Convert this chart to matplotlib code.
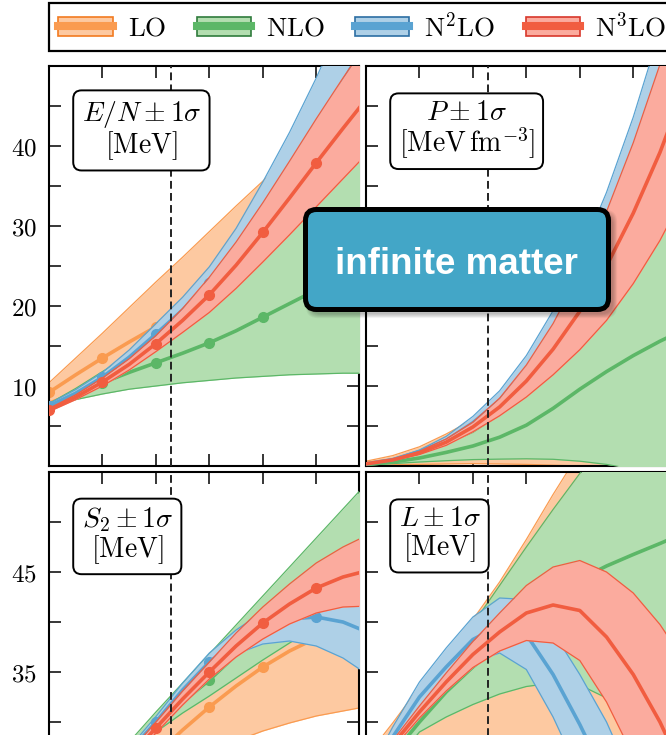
import matplotlib
matplotlib.use("Agg")
import matplotlib.pyplot as plt
from matplotlib.patches import Patch, FancyBboxPatch
from matplotlib.lines import Line2D
from matplotlib.legend_handler import HandlerTuple

plt.rcParams["mathtext.fontset"] = "cm"
plt.rcParams["font.family"] = "serif"

# densities n [fm^-3]
DENS = [0.05, 0.075, 0.10, 0.125, 0.15, 0.175, 0.20, 0.225, 0.25, 0.275, 0.30, 0.325, 0.35]
DOT_IDX = [0, 2, 4, 6, 8, 10]          # n = 0.05 ... 0.30 carry markers
N_SAT = 0.164

LABELS = [r"$\mathrm{LO}$", r"$\mathrm{NLO}$", r"$\mathrm{N}^2\mathrm{LO}$", r"$\mathrm{N}^3\mathrm{LO}$"]
LINE = ["#fa9b50", "#5cb767", "#5aa3d2", "#f15d40"]
FILL = ["#fdc9a1", "#b3deb0", "#aed0e7", "#fbab9e"]
EDGE = ["#f27a20", "#2f7b3c", "#2c6ea3", "#d8372b"]

# ---- E/N [MeV]
EN_LO = [9.2, 11.4, 13.5, 15.5, 17.4, 19.3, 21.2, 23.1, 25.0, 26.9, 28.8, 30.7, 32.6]
EN_LO_LOW = [8.0, 9.3, 10.4, 11.2, 11.8, 12.5, 13.1, 13.7, 14.4, 15.0, 15.6, 16.3, 17.0]
EN_LO_HIGH = [10.4, 13.5, 16.6, 19.8, 23.0, 26.1, 29.3, 32.5, 35.6, 38.8, 42.0, 45.1, 48.2]
EN_NLO = [7.5, 9.0, 10.4, 11.7, 12.9, 14.1, 15.4, 16.9, 18.6, 20.3, 22.0, 23.8, 25.6]
EN_NLO_LOW = [7.2, 8.3, 9.0, 9.6, 10.0, 10.4, 10.7, 11.0, 11.2, 11.4, 11.5, 11.6, 11.6]
EN_NLO_HIGH = [7.8, 9.7, 11.8, 13.8, 15.8, 17.8, 20.1, 22.8, 26.0, 29.2, 32.5, 36.0, 39.6]
EN_N2LO = [7.5, 9.1, 11.1, 13.6, 16.5, 19.5, 22.9, 27.0, 31.5, 36.5, 42.0, 48.0, 54.0]
EN_N2LO_LOW = [7.2, 8.65, 10.5, 12.7, 15.2, 17.9, 20.9, 24.3, 28.5, 33.3, 38.0, 43.0, 48.0]
EN_N2LO_HIGH = [7.8, 9.55, 11.7, 14.5, 17.8, 21.1, 24.9, 29.7, 35.5, 41.7, 48.5, 56.0, 64.0]
EN_N3LO = [7.0, 8.6, 10.5, 12.7, 15.3, 18.2, 21.4, 25.1, 29.2, 33.5, 37.9, 42.2, 46.4]
EN_N3LO_LOW = [6.8, 8.3, 10.0, 12.0, 14.3, 16.7, 19.2, 22.2, 25.5, 28.9, 32.4, 35.9, 39.4]
EN_N3LO_HIGH = [7.2, 8.9, 11.0, 13.4, 16.3, 19.7, 23.6, 28.0, 32.9, 38.1, 43.4, 48.5, 53.4]

# ---- P [MeV fm^-3]
P_LO = [0.17, 0.37, 0.65, 1.07, 1.5, 2.0, 2.55, 3.1, 3.75, 4.35, 4.9, 5.4, 5.95]
P_LO_LOW = [0.05, 0.08, 0.1, 0.13, 0.15, 0.13, 0.1, 0.05, 0.0, -0.1, -0.2, -0.35, -0.5]
P_LO_HIGH = [0.3, 0.65, 1.2, 2.0, 2.9, 3.9, 5.0, 6.2, 7.5, 8.8, 10.0, 11.2, 12.4]
P_NLO = [0.1, 0.25, 0.5, 0.85, 1.25, 1.8, 2.55, 3.6, 4.8, 5.9, 6.9, 7.8, 8.6]
P_NLO_LOW = [0.05, 0.15, 0.25, 0.33, 0.4, 0.43, 0.45, 0.42, 0.3, 0.1, -0.2, -0.6, -1.1]
P_NLO_HIGH = [0.15, 0.35, 0.75, 1.37, 2.1, 3.17, 4.65, 6.78, 9.3, 11.7, 14.0, 16.2, 18.3]
P_N2LO = [0.13, 0.4, 0.9, 1.6, 2.7, 4.1, 6.0, 8.4, 11.3, 14.7, 18.8, 23.5, 29.0]
P_N2LO_LOW = [0.11, 0.35, 0.8, 1.35, 2.3, 3.5, 5.1, 7.1, 9.5, 12.3, 15.8, 19.8, 24.5]
P_N2LO_HIGH = [0.15, 0.45, 1.0, 1.85, 3.1, 4.7, 6.9, 9.7, 13.1, 17.1, 21.8, 27.2, 33.5]
P_N3LO = [0.13, 0.38, 0.82, 1.49, 2.44, 3.69, 5.31, 7.3, 9.67, 12.5, 15.8, 19.6, 24.0]
P_N3LO_LOW = [0.11, 0.34, 0.72, 1.29, 2.14, 3.14, 4.31, 5.7, 7.27, 9.1, 11.4, 14.1, 17.3]
P_N3LO_HIGH = [0.15, 0.42, 0.92, 1.69, 2.74, 4.24, 6.31, 8.9, 12.07, 15.9, 20.2, 25.1, 30.7]

# ---- S2 [MeV]
S2_LO = [15.0, 17.5, 20.5, 23.5, 26.7, 29.2, 31.5, 33.6, 35.5, 37.1, 38.4, 39.3, 39.9]
S2_LO_LOW = [14.0, 16.2, 19.0, 21.5, 24.5, 25.9, 27.0, 28.1, 29.1, 29.9, 30.6, 31.1, 31.6]
S2_LO_HIGH = [16.0, 18.8, 22.0, 25.5, 28.9, 32.5, 36.0, 39.1, 41.9, 44.3, 46.2, 47.5, 48.2]
S2_NLO = [18.3, 20.9, 23.7, 27.3, 29.8, 32.0, 34.2, 36.7, 39.4, 41.7, 44.0, 46.1, 48.3]
S2_NLO_LOW = [17.0, 19.5, 22.4, 26.6, 29.0, 30.9, 32.6, 34.4, 36.2, 37.9, 39.5, 41.0, 42.4]
S2_NLO_HIGH = [19.5, 22.2, 25.0, 28.0, 31.0, 33.9, 36.8, 39.7, 42.6, 45.5, 48.4, 51.3, 54.2]
S2_N2LO = [17.5, 20.5, 23.8, 27.0, 30.0, 33.2, 36.0, 38.0, 39.4, 40.3, 40.5, 40.0, 38.9]
S2_N2LO_LOW = [17.4, 20.35, 23.55, 26.6, 29.45, 32.5, 35.1, 36.8, 37.8, 38.1, 37.6, 36.4, 34.6]
S2_N2LO_HIGH = [17.6, 20.65, 24.05, 27.4, 30.55, 33.9, 36.9, 39.2, 41.0, 42.5, 43.4, 43.6, 43.2]
S2_N3LO = [17.0, 20.0, 23.3, 26.5, 29.4, 32.3, 35.0, 37.6, 39.9, 41.8, 43.4, 44.5, 45.2]
S2_N3LO_LOW = [16.9, 19.8, 23.0, 26.05, 28.9, 31.7, 34.3, 36.5, 38.3, 39.8, 40.9, 41.5, 41.6]
S2_N3LO_HIGH = [17.1, 20.2, 23.6, 26.95, 30.0, 33.1, 36.0, 38.9, 41.5, 43.8, 45.9, 47.5, 48.8]

# ---- L [MeV]
L_LO = [28.0, 34.0, 40.0, 45.0, 50.0, 55.0, 60.0, 64.0, 68.0, 71.0, 74.0, 77.0, 80.0]
L_LO_LOW = [15.0, 17.5, 20.0, 22.0, 24.0, 25.5, 27.0, 27.5, 28.0, 27.5, 27.0, 26.0, 25.0]
L_LO_HIGH = [33.0, 39.8, 47.0, 54.0, 60.5, 68.0, 76.5, 85.5, 94.0, 102.0, 110.0, 118.0, 126.0]
L_NLO = [28.0, 33.5, 40.0, 46.0, 51.0, 55.5, 60.0, 64.5, 68.5, 71.2, 73.5, 75.7, 78.0]
L_NLO_LOW = [25.0, 31.5, 38.0, 41.0, 43.5, 45.6, 47.1, 47.8, 47.4, 44.8, 39.5, 32.5, 24.0]
L_NLO_HIGH = [30.0, 37.4, 44.8, 52.2, 59.6, 67.3, 75.0, 82.5, 89.7, 96.5, 103.0, 109.0, 115.0]
L_N2LO = [28.0, 37.0, 45.0, 51.0, 56.5, 59.3, 57.5, 49.5, 39.5, 28.5, 15.0, 2.0, -10.0]
L_N2LO_LOW = [27.0, 35.0, 42.0, 47.2, 52.0, 53.8, 50.5, 41.0, 29.5, 17.0, 2.0, -12.5, -26.0]
L_N2LO_HIGH = [29.0, 39.0, 48.0, 54.8, 61.0, 64.8, 64.5, 58.0, 49.5, 40.0, 28.0, 16.5, 6.0]
L_N3LO = [28.0, 35.5, 42.0, 48.0, 53.5, 58.0, 61.8, 63.4, 62.3, 57.0, 49.5, 40.0, 28.5]
L_N3LO_LOW = [27.5, 34.7, 40.8, 46.2, 50.9, 54.2, 56.3, 55.8, 52.3, 44.0, 33.2, 20.5, 5.5]
L_N3LO_HIGH = [28.5, 36.3, 43.2, 49.8, 56.1, 61.8, 67.3, 71.0, 72.3, 70.0, 65.8, 59.5, 51.5]

X_TICKS = [0.10, 0.15, 0.20, 0.25, 0.30]
EN_YTICKS = [5, 10, 15, 20, 25, 30, 35, 40, 45]
EN_YLABELS = ["", "$10$", "", "$20$", "", "$30$", "", "$40$", ""]
S2_YTICKS = [20, 25, 30, 35, 40, 45, 50]
S2_YLABELS = ["", "", "", "$35$", "", "$45$", ""]
P_YTICKS = [2.5, 5, 7.5, 10, 12.5, 15, 17.5, 20, 22.5]
L_YTICKS = [20, 30, 40, 50, 60, 70, 80]


def draw_panel(ax, series, dots):
    for k, (c, lo, hi) in enumerate(series):
        z = 2 + 2 * k
        ax.fill_between(DENS, lo, hi, color=FILL[k], lw=0, zorder=z)
        ax.plot(DENS, lo, color=LINE[k], lw=0.9, zorder=z + 0.1)
        ax.plot(DENS, hi, color=LINE[k], lw=0.9, zorder=z + 0.1)
        ax.plot(DENS, c, color=LINE[k], lw=2.6, zorder=z + 0.2,
                marker="o" if dots else None, ms=7, markevery=DOT_IDX)
    ax.axvline(N_SAT, color="#222", lw=1.4, ls=(0, (4, 2.2)), zorder=15)


def style(ax, ylim, yticks, ylabels, label):
    ax.set_xlim(0.05, 0.34)
    ax.set_ylim(*ylim)
    ax.set_xticks(X_TICKS)
    ax.set_yticks(yticks)
    if ylabels is None:
        ax.tick_params(labelleft=False)
    else:
        ax.set_yticklabels(ylabels)
    ax.tick_params(direction="in", length=8.5, width=1.1, top=True, right=True,
                   labelbottom=False, labelsize=18, pad=8.5)
    for s in ax.spines.values():
        s.set_linewidth(1.5)
    ax.text(0.105, 0.918, label, transform=ax.transAxes, ha="left", va="top",
            fontsize=20, multialignment="center", linespacing=0.98, zorder=20,
            bbox=dict(boxstyle="round,pad=0.3", fc="white", ec="black", lw=1.4))


fig = plt.figure(figsize=(6.66, 7.35), dpi=100)
W, H = 310 / 666, 400 / 735
ax_en = fig.add_axes([49 / 666, 1 - 466 / 735, W, H])
ax_p = fig.add_axes([366 / 666, 1 - 466 / 735, W, H])
ax_s2 = fig.add_axes([49 / 666, 1 - 872 / 735, W, H])
ax_l = fig.add_axes([366 / 666, 1 - 872 / 735, W, H])

draw_panel(ax_en, [(EN_LO, EN_LO_LOW, EN_LO_HIGH), (EN_NLO, EN_NLO_LOW, EN_NLO_HIGH),
                   (EN_N2LO, EN_N2LO_LOW, EN_N2LO_HIGH), (EN_N3LO, EN_N3LO_LOW, EN_N3LO_HIGH)], True)
draw_panel(ax_p, [(P_LO, P_LO_LOW, P_LO_HIGH), (P_NLO, P_NLO_LOW, P_NLO_HIGH),
                  (P_N2LO, P_N2LO_LOW, P_N2LO_HIGH), (P_N3LO, P_N3LO_LOW, P_N3LO_HIGH)], False)
draw_panel(ax_s2, [(S2_LO, S2_LO_LOW, S2_LO_HIGH), (S2_NLO, S2_NLO_LOW, S2_NLO_HIGH),
                   (S2_N2LO, S2_N2LO_LOW, S2_N2LO_HIGH), (S2_N3LO, S2_N3LO_LOW, S2_N3LO_HIGH)], True)
draw_panel(ax_l, [(L_LO, L_LO_LOW, L_LO_HIGH), (L_NLO, L_NLO_LOW, L_NLO_HIGH),
                  (L_N2LO, L_N2LO_LOW, L_N2LO_HIGH), (L_N3LO, L_N3LO_LOW, L_N3LO_HIGH)], False)

style(ax_en, (0, 50), EN_YTICKS, EN_YLABELS, "$E/N \\pm 1\\sigma$\n$[\\mathrm{MeV}]$")
style(ax_p, (0, 25), P_YTICKS, None, "$P \\pm 1\\sigma$\n$[\\mathrm{MeV\\,fm}^{-3}]$")
style(ax_s2, (15, 55), S2_YTICKS, S2_YLABELS, "$S_2 \\pm 1\\sigma$\n$[\\mathrm{MeV}]$")
style(ax_l, (10, 90), L_YTICKS, None, "$L \\pm 1\\sigma$\n$[\\mathrm{MeV}]$")

handles = [(Patch(fc=FILL[k], ec=EDGE[k], lw=1.2), Line2D([], [], color=LINE[k], lw=5.8))
           for k in range(4)]
leg = fig.legend(handles, LABELS, handler_map={tuple: HandlerTuple(ndivide=1, pad=0)},
                 loc="upper left", bbox_to_anchor=(49 / 666, 1 - 10 / 735, 627 / 666, 0.01),
                 mode="expand", ncol=4, borderaxespad=0, fontsize=19.5, fancybox=False,
                 edgecolor="black", framealpha=1, handlelength=2.0, handleheight=0.75,
                 handletextpad=0.55, borderpad=0.35)
leg.get_frame().set_linewidth(1.6)

# "infinite matter" badge with a soft shadow
for i in range(8):
    sh = FancyBboxPatch((3.055 + 0.045 - 0.006 * i, 4.255 - 0.045 - 0.006 * i),
                        3.03 + 0.012 * i, 1.0 + 0.012 * i,
                        boxstyle="round,pad=0,rounding_size=0.12", fc="black", ec="none",
                        alpha=0.035, transform=fig.dpi_scale_trans, zorder=29)
    fig.add_artist(sh)
badge = FancyBboxPatch((3.055, 4.255), 3.03, 1.0, boxstyle="round,pad=0,rounding_size=0.11",
                       fc="#43a6c7", ec="black", lw=3.6, transform=fig.dpi_scale_trans, zorder=30)
fig.add_artist(badge)
fig.text(456.5 / 666, 1 - 274 / 735, "infinite matter", color="white", fontsize=26.5,
         fontweight="bold", family="Liberation Sans", ha="center", va="baseline", zorder=31)

fig.savefig("out.png", dpi=100)
